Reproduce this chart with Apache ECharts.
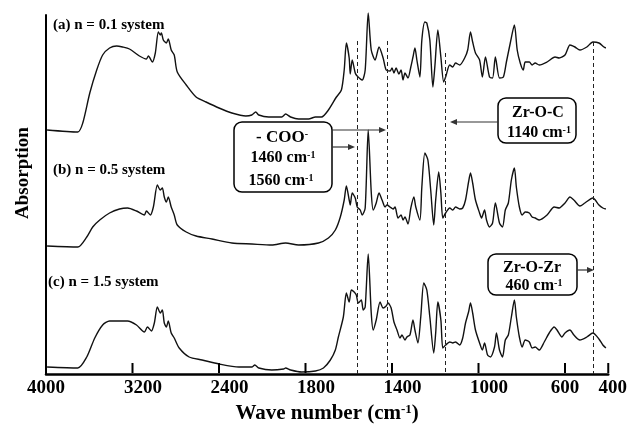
<!DOCTYPE html>
<html lang="en">
<head>
    <meta charset="UTF-8">
    <script src="https://cdn.jsdelivr.net/npm/echarts@6/dist/echarts.min.js"></script>
    <title>FTIR</title>
</head>
<style>
    body{
        margin: 0;
        padding: 0;
    }
</style>
<body>
<div id="ftir" style="width: 630px;height:431px;"></div>
</body>
<script>
    // tick labels of the wave number axis (cm-1)
    var tickLabels = [4000, 3200, 2400, 1800, 1400, 1000, 600, 400];

    // (a) n = 0.1 system
    var waveA = [3990, 3706, 3660, 3595, 3531, 3476, 3412, 3347, 3292, 3228, 3136, 3071, 3053, 3016, 2989, 2961, 2943, 2933, 2915, 2887, 2869, 2842, 2814, 2786, 2703, 2612, 2520, 2400, 2281, 2152, 2097, 2060, 2032, 1970, 1910, 1892, 1869, 1832, 1786, 1754, 1726, 1694, 1657, 1634, 1621, 1611, 1598, 1593, 1584, 1570, 1561, 1538, 1524, 1510, 1496, 1478, 1460, 1441, 1427, 1409, 1400, 1391, 1381, 1368, 1358, 1349, 1340, 1326, 1313, 1303, 1294, 1285, 1271, 1262, 1248, 1239, 1225, 1211, 1202, 1188, 1174, 1161, 1152, 1133, 1119, 1106, 1087, 1064, 1050, 1037, 1027, 1014, 995, 982, 968, 949, 935, 922, 903, 885, 871, 853, 834, 821, 807, 793, 784, 765, 752, 738, 719, 683, 646, 627, 600, 577, 554, 531, 499, 471, 443, 420, 411];
    var absA = [244, 242, 251, 281, 304, 319, 326, 328, 327, 325, 318, 315, 318, 312, 321, 342, 339, 341, 334, 331, 335, 324, 319, 302, 289, 277, 272, 266, 261, 258, 259, 262, 259, 257, 257, 260, 257, 255, 255, 257, 257, 264, 277, 284, 304, 331, 316, 300, 314, 301, 298, 294, 304, 361, 324, 314, 327, 316, 304, 303, 306, 301, 306, 300, 304, 294, 301, 296, 307, 317, 326, 314, 297, 334, 352, 351, 334, 287, 307, 344, 317, 292, 297, 309, 307, 311, 309, 316, 324, 342, 332, 321, 314, 297, 317, 297, 296, 317, 296, 297, 312, 331, 349, 324, 311, 304, 312, 312, 309, 311, 309, 312, 317, 316, 319, 329, 327, 324, 327, 332, 331, 327, 326];

    // (b) n = 0.5 system
    var waveB = [3990, 3706, 3623, 3568, 3503, 3412, 3320, 3246, 3163, 3090, 3071, 3035, 3007, 2970, 2943, 2924, 2906, 2887, 2869, 2842, 2814, 2786, 2703, 2612, 2465, 2281, 2097, 1956, 1892, 1832, 1740, 1694, 1662, 1639, 1621, 1611, 1598, 1593, 1584, 1570, 1561, 1547, 1538, 1524, 1510, 1496, 1487, 1473, 1460, 1446, 1432, 1423, 1409, 1395, 1386, 1372, 1358, 1349, 1340, 1326, 1313, 1299, 1290, 1271, 1262, 1248, 1234, 1221, 1207, 1198, 1184, 1174, 1165, 1152, 1133, 1119, 1106, 1087, 1073, 1060, 1046, 1037, 1027, 1014, 995, 986, 972, 963, 949, 935, 922, 903, 889, 876, 862, 848, 834, 825, 811, 798, 784, 765, 752, 738, 719, 683, 650, 627, 600, 577, 559, 531, 508, 471, 443, 425, 411];
    var absB = [128, 127, 137, 147, 154, 161, 165, 166, 163, 159, 163, 159, 167, 189, 184, 186, 177, 172, 177, 167, 159, 149, 142, 138, 135, 131, 130, 129, 131, 129, 131, 136, 144, 157, 174, 188, 174, 169, 181, 176, 167, 164, 159, 166, 244, 182, 164, 171, 181, 174, 167, 169, 167, 165, 167, 156, 159, 154, 157, 150, 166, 177, 167, 154, 187, 221, 214, 184, 149, 174, 202, 181, 156, 161, 166, 164, 167, 165, 166, 174, 192, 201, 191, 174, 161, 156, 164, 154, 147, 151, 171, 151, 147, 164, 171, 194, 206, 187, 167, 159, 162, 161, 157, 156, 154, 159, 167, 166, 171, 177, 174, 168, 171, 176, 169, 166, 165];

    // (c) n = 1.5 system
    var waveC = [3990, 3706, 3623, 3549, 3476, 3412, 3320, 3246, 3163, 3090, 3062, 3025, 2998, 2970, 2943, 2924, 2906, 2887, 2869, 2842, 2814, 2768, 2676, 2556, 2400, 2216, 2097, 2069, 2032, 1956, 1901, 1892, 1869, 1818, 1754, 1717, 1685, 1662, 1648, 1625, 1611, 1598, 1588, 1575, 1565, 1556, 1542, 1533, 1524, 1510, 1496, 1487, 1473, 1455, 1441, 1427, 1418, 1404, 1391, 1377, 1363, 1354, 1340, 1331, 1317, 1303, 1294, 1280, 1267, 1253, 1239, 1225, 1207, 1198, 1188, 1174, 1165, 1152, 1133, 1119, 1106, 1087, 1073, 1060, 1046, 1037, 1027, 1014, 995, 982, 972, 958, 945, 926, 917, 903, 889, 876, 862, 848, 834, 825, 811, 798, 784, 765, 752, 738, 719, 696, 673, 650, 637, 614, 600, 577, 559, 531, 499, 471, 443, 425, 411];
    var absC = [7, 6, 17, 36, 49, 53, 53, 53, 49, 42, 47, 43, 51, 67, 61, 64, 51, 47, 53, 41, 36, 26, 17, 14, 10, 7, 7, 9, 6, 4, 5, 6, 4, 2, 3, 6, 14, 24, 37, 57, 81, 72, 84, 82, 79, 71, 74, 64, 67, 120, 61, 44, 54, 72, 66, 68, 71, 66, 52, 44, 36, 39, 34, 37, 39, 54, 44, 31, 57, 91, 84, 57, 21, 41, 72, 54, 26, 29, 32, 31, 32, 29, 36, 51, 62, 71, 61, 44, 31, 24, 31, 19, 17, 27, 41, 24, 17, 34, 39, 57, 74, 57, 37, 27, 34, 32, 26, 27, 24, 32, 41, 47, 44, 37, 41, 44, 39, 34, 37, 41, 35, 29, 26];

    // dashed marker lines (where they are drawn) and the height they start from
    var markWaves = [1561, 1423, 1156, 471];
    var markTops = [333, 333, 321, 332];

    // x axis is expanded 2x below 2000 cm-1
    function pos(w) {
        return w >= 2000 ? (4000 - w) / 800 : 2.5 + (2000 - w) / 400;
    }
    function zip(ws, vs) {
        var out = [];
        for (var i = 0; i < Math.min(ws.length, vs.length); i++) {
            out.push([pos(ws[i]), vs[i]]);
        }
        return out;
    }
    var tickPos = tickLabels.map(pos);

    var serif = '"Liberation Serif", "Times New Roman", serif';
    var supStyle = {fontSize: 10, fontWeight: 'bold', fontFamily: serif, verticalAlign: 'top', lineHeight: 10};

    function txt(x, y, s, size, align) {
        return {
            type: 'text', x: x, y: y, z: 20,
            style: {
                text: s, fill: '#000', fontSize: size, fontWeight: 'bold', fontFamily: serif,
                align: align || 'center', verticalAlign: 'middle',
                rich: {sup: supStyle}
            }
        };
    }
    function box(x, y, w, h) {
        return {
            type: 'rect', z: 15, shape: {x: x, y: y, width: w, height: h, r: 8},
            style: {fill: '#fff', stroke: '#000', lineWidth: 1.5}
        };
    }
    function arrow(x1, y, x2) {
        var d = x2 > x1 ? 1 : -1;
        return [
            {type: 'line', z: 15, shape: {x1: x1, y1: y, x2: x2 - d * 5, y2: y}, style: {stroke: '#333', lineWidth: 1.2}},
            {type: 'polygon', z: 15, shape: {points: [[x2, y], [x2 - d * 7, y - 3], [x2 - d * 7, y + 3]]}, style: {fill: '#333'}}
        ];
    }

    var graphics = [
        {
            type: 'text', x: 23, y: 173, rotation: Math.PI / 2,
            style: {text: 'Absorption', fill: '#000', fontSize: 19, fontWeight: 'bold', fontFamily: serif, align: 'center', verticalAlign: 'middle'}
        },
        txt(53, 25, '(a) n = 0.1 system', 15, 'left'),
        txt(53, 170, '(b) n = 0.5 system', 15, 'left'),
        txt(48, 282, '(c) n = 1.5 system', 15, 'left'),
        box(234, 122, 98, 70),
        txt(282, 138, '- COO{sup|-}', 17),
        txt(283, 158, '1460 cm{sup|-1}', 16),
        txt(281, 181, '1560 cm{sup|-1}', 16),
        box(498, 98, 78, 45),
        txt(538, 113, 'Zr-O-C', 16),
        txt(539, 133, '1140 cm{sup|-1}', 16),
        box(488, 254, 89, 41),
        txt(532, 268, 'Zr-O-Zr', 16),
        txt(534, 286, '460 cm{sup|-1}', 16)
    ].concat(arrow(332, 130, 386), arrow(332, 147, 355), arrow(498, 122, 450), arrow(577, 270, 594));

    var chart = echarts.init(document.getElementById('ftir'));
    var lineSeries = function (data) {
        return {
            type: 'line', data: data, showSymbol: false, smooth: 0.25, clip: false,
            lineStyle: {color: '#111', width: 1.4}, silent: true
        };
    };
    var option = {
        animation: false,
        backgroundColor: '#fff',
        grid: {left: 46, right: 19, top: 15, bottom: 57},
        xAxis: {
            type: 'value', min: 0, max: 6.5, interval: 1,
            splitLine: {show: false},
            axisLine: {lineStyle: {color: '#000', width: 2.5}},
            axisTick: {show: false},
            axisLabel: {
                showMaxLabel: true,
                margin: 5,
                color: '#000', fontSize: 19, fontWeight: 'bold', fontFamily: serif,
                formatter: function (v) {
                    for (var i = 0; i < tickPos.length; i++) {
                        if (Math.abs(tickPos[i] - v) < 1e-6) {
                            var w = tickLabels[i];
                            if (w === 4000 || w === 600) return String(w);
                            if (w === 400) return '{t|' + w + '}';
                            return '{s|' + w + '}';
                        }
                    }
                    return '';
                },
                rich: {
                    s: {padding: [0, 0, 0, 21], fontSize: 19, fontWeight: 'bold', fontFamily: serif, color: '#000'},
                    t: {padding: [0, 0, 0, 9], fontSize: 19, fontWeight: 'bold', fontFamily: serif, color: '#000'}
                }
            },
            name: 'Wave number (cm{sup|-1})',
            nameLocation: 'middle',
            nameGap: 26,
            nameTextStyle: {
                color: '#000', fontSize: 21, fontWeight: 'bold', fontFamily: serif,
                rich: {sup: {fontSize: 13, fontWeight: 'bold', fontFamily: serif, color: '#000', verticalAlign: 'top', lineHeight: 12}}
            }
        },
        yAxis: {
            type: 'value', min: 0, max: 359,
            splitLine: {show: false},
            axisLabel: {show: false},
            axisLine: {show: true, lineStyle: {color: '#000', width: 2}},
            axisTick: {show: false}
        },
        series: [
            lineSeries(zip(waveA, absA)),
            lineSeries(zip(waveB, absB)),
            lineSeries(zip(waveC, absC)),
            {
                // dashed guides
                type: 'line', data: [], silent: true,
                markLine: {
                    symbol: 'none', silent: true, label: {show: false},
                    lineStyle: {type: [4, 3], color: '#222', width: 1},
                    data: markWaves.map(function (w, i) {
                        return [{coord: [pos(w), markTops[i]]}, {coord: [pos(w), 0]}];
                    })
                }
            }
        ],
        graphic: graphics
    };
    chart.setOption(option);

    // inward tick marks on the wave number axis, placed through the axis scale
    var tickMarks = tickPos.slice(1).map(function (p) {
        var a = chart.convertToPixel({gridIndex: 0}, [p, 0]);
        return {
            type: 'line', z: 30,
            shape: {x1: a[0], y1: a[1] - 1, x2: a[0], y2: a[1] - 11},
            style: {stroke: '#000', lineWidth: 2}
        };
    });
    chart.setOption({graphic: graphics.concat(tickMarks)});
</script>
</html>
